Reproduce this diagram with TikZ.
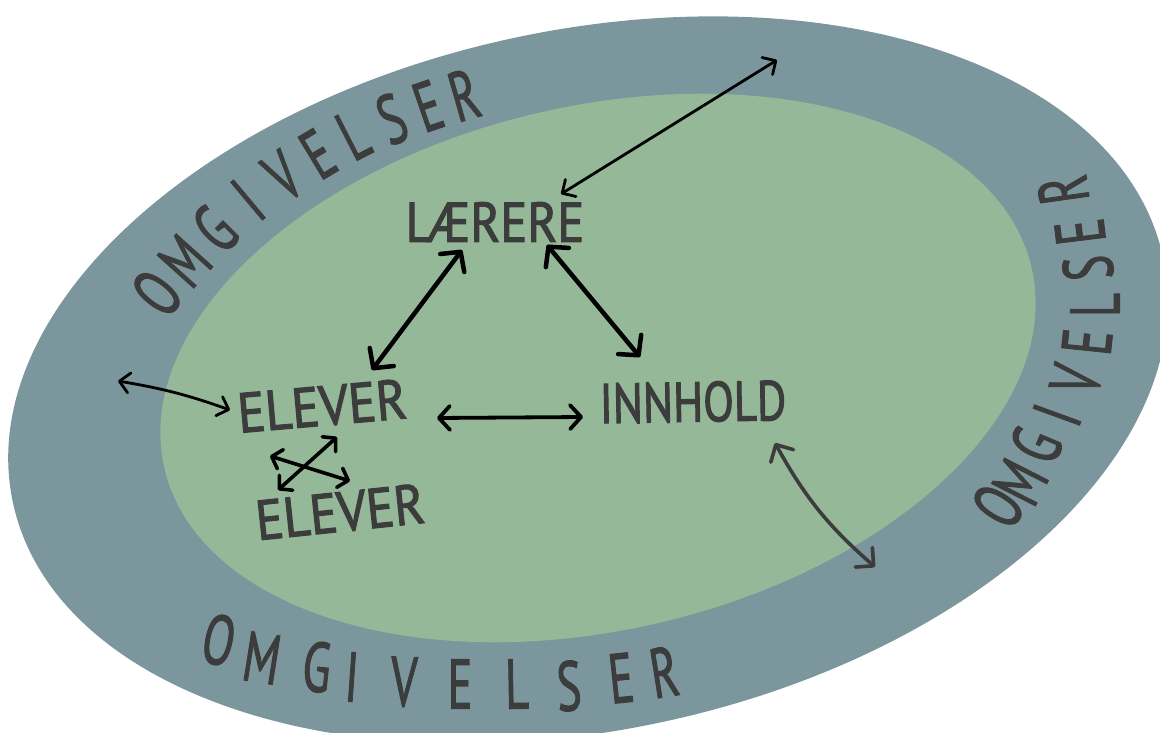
\documentclass[tikz,border=0pt]{standalone}
\usepackage{fontspec}
\newfontfamily\hand{PT Sans}[FakeBold=2.2]
\newfontfamily\handring{PT Sans}[FakeBold=1.8]
\usetikzlibrary{arrows.meta,calc}
\definecolor{outerc}{HTML}{7B979D}
\definecolor{innerc}{HTML}{95B898}
\definecolor{ink}{HTML}{3C3C3C}
\tikzset{
  thicktip/.tip={Straight Barb[length=14pt,width=30pt,round]},
  midtip/.tip={Straight Barb[length=11pt,width=24pt,round]},
  smalltip/.tip={Straight Barb[length=9pt,width=20pt,round]},
  thintip/.tip={Straight Barb[length=10pt,width=20pt,round]},
  greytip/.tip={Straight Barb[length=13pt,width=26pt,round]}
}
\begin{document}
\begin{tikzpicture}[x=1pt,y=1pt,
  mainlabel/.style={font=\hand\fontsize{56}{60}\selectfont, text=ink, inner sep=0pt},
  ringletter/.style={font=\handring\fontsize{70}{72}\selectfont, text=ink, inner sep=0pt, xscale=0.66},
  thickarrow/.style={line width=4.5pt, line cap=round, {thicktip}-{thicktip}},
  midarrow/.style={line width=3.8pt, line cap=round, {midtip}-{midtip}},
  crossarrow/.style={line width=3.6pt, line cap=round, {smalltip}-{smalltip}},
  thinarrow/.style={line width=2.8pt, line cap=round, {thintip}-{thintip}},
  greyarrow/.style={line width=3.6pt, line cap=round, draw=ink, {greytip}-{greytip}}
]
\useasboundingbox (0,0) rectangle (1160,-733);
\clip (0,0) rectangle (1160,-733);
% rings
\fill[outerc, rotate around={12:(588,-380)}] (588,-380) ellipse [x radius=588, y radius=350];
\fill[innerc, rotate around={13:(598,-368)}] (598,-368) ellipse [x radius=445, y radius=262];

% ring texts
\foreach \ch/\px/\py/\r [count=\i] in {O/157/293/52, M/185/261/48, G/215/229/45, I/248/200/40, V/283/176/34, E/318/154/31, L/353/135/27, S/392/119/22, E/428/106/19, R/464/95/16}
  \node[rotate=\r, ringletter] (tl\i) at (\px,-\py) {\ch};
\foreach \ch/\px/\py/\r [count=\i] in {O/998/506/58, M/1020/482/63, G/1036/445/67, I/1057/415/70, V/1076/380/76, E/1087/342/84, L/1095/305/90, S/1088/268/95, E/1080/232/97, R/1063/190/98}
  \node[rotate=\r, ringletter] (rt\i) at (\px,-\py) {\ch};
\foreach \ch/\px/\py/\r [count=\i] in {O/219/640/-12, M/262/658/-9, G/317/667/-6, I/352/677/-4, V/404/682/-2, E/460/684/0, L/517/684/1, S/569/686/3, E/621/678/6, R/664/672/9}
  \node[rotate=\r, ringletter] (bt\i) at (\px,-\py) {\ch};

% main labels
\node[mainlabel, xscale=0.9] (lae) at (495,-222) {LÆRERE};
\node[mainlabel, rotate=5, xscale=0.92] (el1) at (322,-406) {ELEVER};
\node[mainlabel, rotate=1, xscale=0.8] (inn) at (693,-402) {INNHOLD};
\node[mainlabel, rotate=6, xscale=0.92] (el2) at (340,-512) {ELEVER};

% free ends
\coordinate (c4) at (777,-60);
\coordinate (c5) at (118,-381);
\coordinate (c6) at (875,-567);

% connectors
\draw[thickarrow] ($(lae)+(-33,-28)$) -- ($(el1)+(50,36)$);
\draw[thickarrow] ($(lae)+(52,-23)$) -- ($(inn)+(-53,45)$);
\draw[midarrow] ($(el1)+(115,-12)$) -- ($(inn)+(-110,-15)$);
\draw[thinarrow] ($(lae)+(66,28)$) -- (c4);
\draw[thinarrow] (c5) to[bend left=5] ($(el1)+(-92,-4)$);
\draw[greyarrow] ($(inn)+(82,-41)$) to[bend right=10] (c6);
\draw[crossarrow] ($(el2)+(-62,22)$) -- ($(el1)+(15,-31)$);
\draw[crossarrow] ($(el1)+(-52,-50)$) -- ($(el2)+(10,31)$);
\end{tikzpicture}
\end{document}
